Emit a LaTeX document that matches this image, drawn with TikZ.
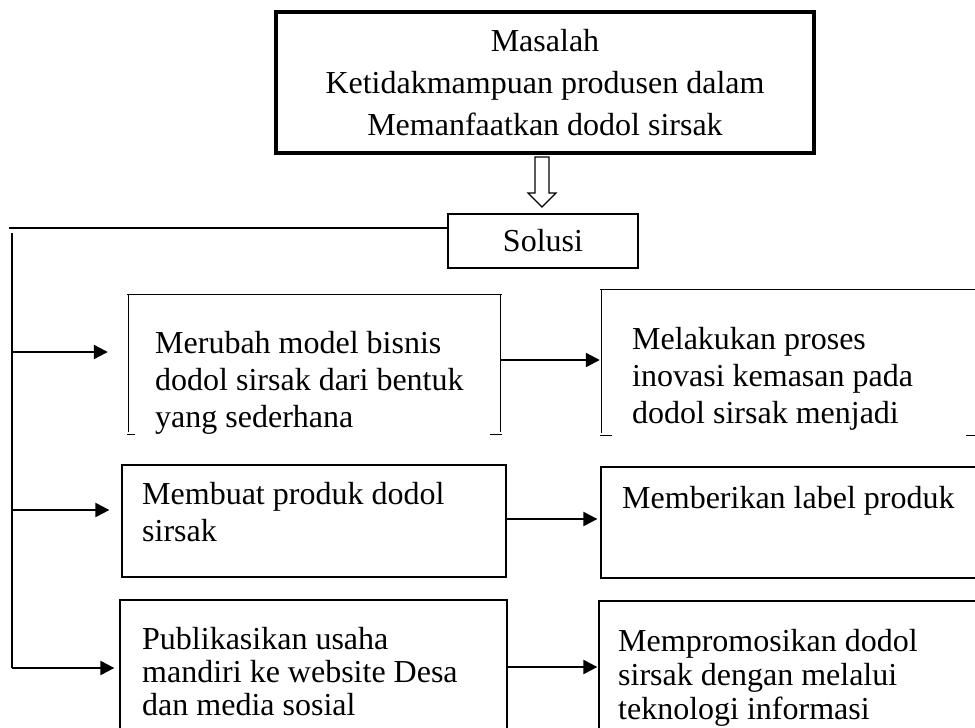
\documentclass[tikz,border=0pt]{standalone}
\usepackage{fontspec}
\setmainfont{Liberation Serif}
\usepackage{tikz}
\usetikzlibrary{arrows.meta}

\tikzset{
	kotak/.style={draw,line width=1.3pt,inner sep=0pt},
	kosong/.style={inner sep=0pt},
	bingkai/.style={line width=1.3pt},
	teks/.style={anchor=north west,align=left,inner sep=0pt,font=\fontsize{32}{37}\selectfont},
	garis/.style={line width=1.6pt},
	panah/.style={->,line width=2.2pt}
}

\begin{document}
\begin{tikzpicture}[x=1pt,y=-1pt,>={Triangle[length=14pt,width=14pt]}]
	\useasboundingbox (0,0) rectangle (975,728);
	\clip (0,0) rectangle (975,728);
	% masalah dan solusi
	\node[draw,line width=4pt,
	minimum width =538pt ,
	minimum height =141pt ,align=center,font=\fontsize{32}{42}\selectfont] (masalah) at(545,82.5){Masalah\\Ketidakmampuan produsen dalam\\Memanfaatkan dodol sirsak};
	\node[kotak,
	minimum width =190pt ,
	minimum height =54pt ,font=\fontsize{32}{37}\selectfont] (solusi) at(543,241){Solusi};
	\draw[line width=1.2pt] (535,157) -- (549,157) -- (549,193) -- (556,193) -- (542,207) -- (528,193) -- (535,193) -- cycle;
	% kotak kiri
	\node[kosong,
	minimum width =371pt ,
	minimum height =139pt] (ubah) at(314.5,364.5){};
	\node[kotak,
	minimum width =384pt ,
	minimum height =112pt] (buat) at(314,521){};
	\node[kotak,
	minimum width =387pt ,
	minimum height =140pt] (publik) at(313.5,670){};
	% kotak kanan
	\node[kosong,
	minimum width =374pt ,
	minimum height =145pt] (kemas) at(789,362.5){};
	\node[kotak,
	minimum width =379pt ,
	minimum height =111pt] (beri) at(790.5,522.5){};
	\node[kotak,
	minimum width =381pt ,
	minimum height =139pt] (promosi) at(789.5,670.5){};
	% teks
	\node[teks] (tubah) at(155,331){Merubah model bisnis\\dodol sirsak dari bentuk\\yang sederhana};
	\node[teks] (tbuat) at(142,482){Membuat produk dodol\\sirsak};
	\node[teks,font=\fontsize{32}{33}\selectfont] (tpublik) at(142,627){Publikasikan usaha\\mandiri ke website Desa\\dan media sosial};
	\node[teks] (tkemas) at(632,327){Melakukan proses\\inovasi kemasan pada\\dodol sirsak menjadi};
	\node[teks] (tberi) at(622,486){Memberikan label produk};
	\node[teks,font=\fontsize{32}{34}\selectfont] (tpromosi) at(618,629){Mempromosikan dodol\\sirsak dengan melalui\\teknologi informasi};
	% bingkai terbuka
	\draw[bingkai] ([xshift=-2pt]ubah.north west) -- ([xshift=2pt]ubah.north east);
	\draw[bingkai] (ubah.north west) -- ([yshift=2pt]ubah.south west);
	\draw[bingkai] (ubah.north east) -- ([yshift=2pt]ubah.south east);
	\draw[bingkai] ([xshift=-2pt]ubah.south west) -- ([xshift=6pt]ubah.south west);
	\draw[bingkai] ([xshift=-10pt]ubah.south east) -- ([xshift=2pt]ubah.south east);
	\draw[bingkai] ([xshift=-2pt]kemas.north west) -- ([xshift=2pt]kemas.north east);
	\draw[bingkai] (kemas.north west) -- ([yshift=2pt]kemas.south west);
	\draw[bingkai] (kemas.north east) -- ([yshift=2pt]kemas.south east);
	\draw[bingkai] ([xshift=-2pt]kemas.south west) -- ([xshift=10pt]kemas.south west);
	\draw[bingkai] ([xshift=-10pt]kemas.south east) -- ([xshift=2pt]kemas.south east);
	% garis kiri
	\coordinate (kiri) at (9,228);
	\coordinate (atas) at (12,233);
	\coordinate (c1) at (12,352);
	\coordinate (c2) at (12,510);
	\coordinate (c3) at (12,668);
	\draw[garis] (kiri) -- (kiri -| solusi.west);
	\draw[garis] (atas) -- (c3);
	\draw[panah,shorten >=21pt] (c1) -- (c1 -| ubah.west);
	\draw[panah,shorten >=12pt] (c2) -- (c2 -| buat.west);
	\draw[panah,shorten >=5pt] (c3) -- (c3 -| publik.west);
	% panah antar kotak
	\draw[panah,shorten >=2pt] ([yshift=4.5pt]ubah.east) -- ([yshift=4.5pt]ubah.east -| kemas.west);
	\draw[panah,shorten >=3pt] ([yshift=2pt]buat.east) -- ([yshift=2pt]buat.east -| beri.west);
	\draw[panah,shorten >=1pt] ([yshift=3pt]publik.east) -- ([yshift=3pt]publik.east -| promosi.west);
\end{tikzpicture}
\end{document}
